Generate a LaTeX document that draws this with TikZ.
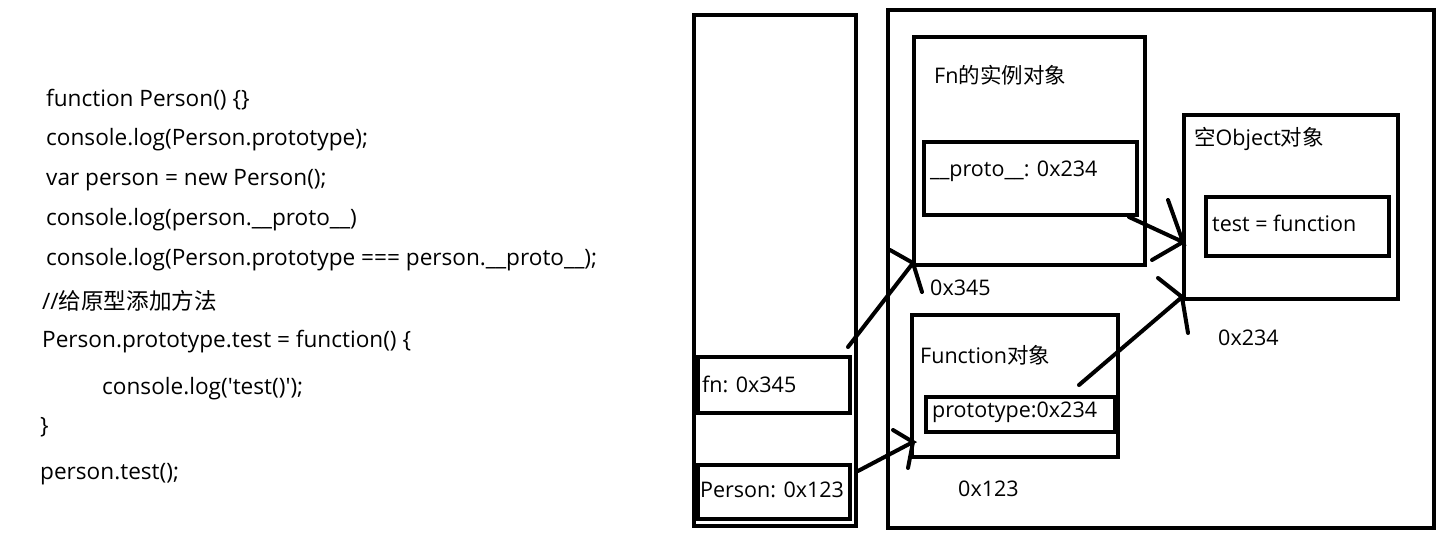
\documentclass[tikz,border=0pt]{standalone}
\usepackage{fontspec}
\setmainfont{Open Sans}[Ligatures=TeXOff]
\newfontfamily\cjk{Noto Sans CJK SC}
\begin{document}
\begin{tikzpicture}[x=1pt,y=-1pt,
  box/.style={draw,line width=4pt,anchor=north west,inner sep=0pt},
  txt/.style={anchor=west,inner sep=0pt,font=\fontsize{21.5}{24}\selectfont},
  code/.style={anchor=west,inner sep=0pt,font=\fontsize{22.6}{24}\selectfont},
  wire/.style={line width=4pt,line cap=round}]
\useasboundingbox (0,0) rectangle (1437,553);
% code
\node[code] (c1) at (46,100) {function Person() \{\}};
\node[code] (c2) at (46,140) {console.log(Person.prototype);};
\node[code] (c3) at (46,180) {var person = new Person();};
\node[code] (c4) at (46,220) {console.log(person.\_\_proto\_\_)};
\node[code] (c5) at (46,260) {console.log(Person.prototype === person.\_\_proto\_\_);};
\node[code] (c6) at (42,301) {//{\cjk 给原型添加方法}};
\node[code] (c7) at (42,342) {Person.prototype.test = function() \{};
\node[code] (c8) at (102,389) {console.log('test()');};
\node[code] (c9) at (40,427) {\}};
\node[code] (c10) at (40,474) {person.test();};
% stack
\node[box,minimum width=162pt,minimum height=511pt] (stack) at (692,13) {};
\node[box,minimum width=152pt,minimum height=56pt] (fn) at (696,355) {};
\node[txt] at (702,384) {fn: 0x345};
\node[box,minimum width=152pt,minimum height=54pt] (per) at (696,463) {};
\node[txt] at (700,490) {Person: 0x123};
% heap
\node[box,minimum width=546pt,minimum height=518pt] (heap) at (886,8) {};
\node[box,minimum width=231pt,minimum height=228pt] (inst) at (912,35) {};
\node[txt] at (934,75) {Fn{\cjk 的实例对象}};
\node[box,minimum width=213pt,minimum height=73pt] (proto) at (922,140) {};
\node[txt] at (930,171) {\_\_proto\_\_: 0x234};
\node[box,minimum width=214pt,minimum height=184pt] (obj) at (1182,113) {};
\node[txt] at (1194,139) {{\cjk 空}Object{\cjk 对象}};
\node[box,minimum width=183pt,minimum height=59pt] (testb) at (1204,195) {};
\node[txt] at (1212,223) {test = function};
\node[box,minimum width=206pt,minimum height=142pt] (func) at (910,313) {};
\node[txt] at (920,355) {Function{\cjk 对象}};
\node[box,minimum width=189pt,minimum height=35pt] (ptype) at (924,395) {};
\node[txt] at (932,412) {prototype:0x234};
\node[txt] (a1) at (930,288) {0x345};
\node[txt] (a2) at (1218,338) {0x234};
\node[txt] (a3) at (958,489) {0x123};
% arrows
\coordinate (t1) at (913,263);
\coordinate (t2) at (913,442);
\coordinate (t3) at (1183,242);
\coordinate (t4) at (1182,297);
\draw[wire] (fn.north east) ++(-4,-8) coordinate (s1) (s1) -- (t1) -- (890,250) (t1) -- (922,292);
\draw[wire] (per.north east) ++(6,8) coordinate (s2) (s2) -- (t2) -- (893,430) (t2) -- (908,468);
\draw[wire] (proto.south east) ++(-10,0) coordinate (s3) (s3) -- (t3) -- (1168,200) (t3) -- (1152,260);
\draw[wire] (ptype.north east) ++(-38,-10) coordinate (s4) (s4) -- (t4) -- (1158,278) (t4) -- (1188,333);
\end{tikzpicture}
\end{document}
